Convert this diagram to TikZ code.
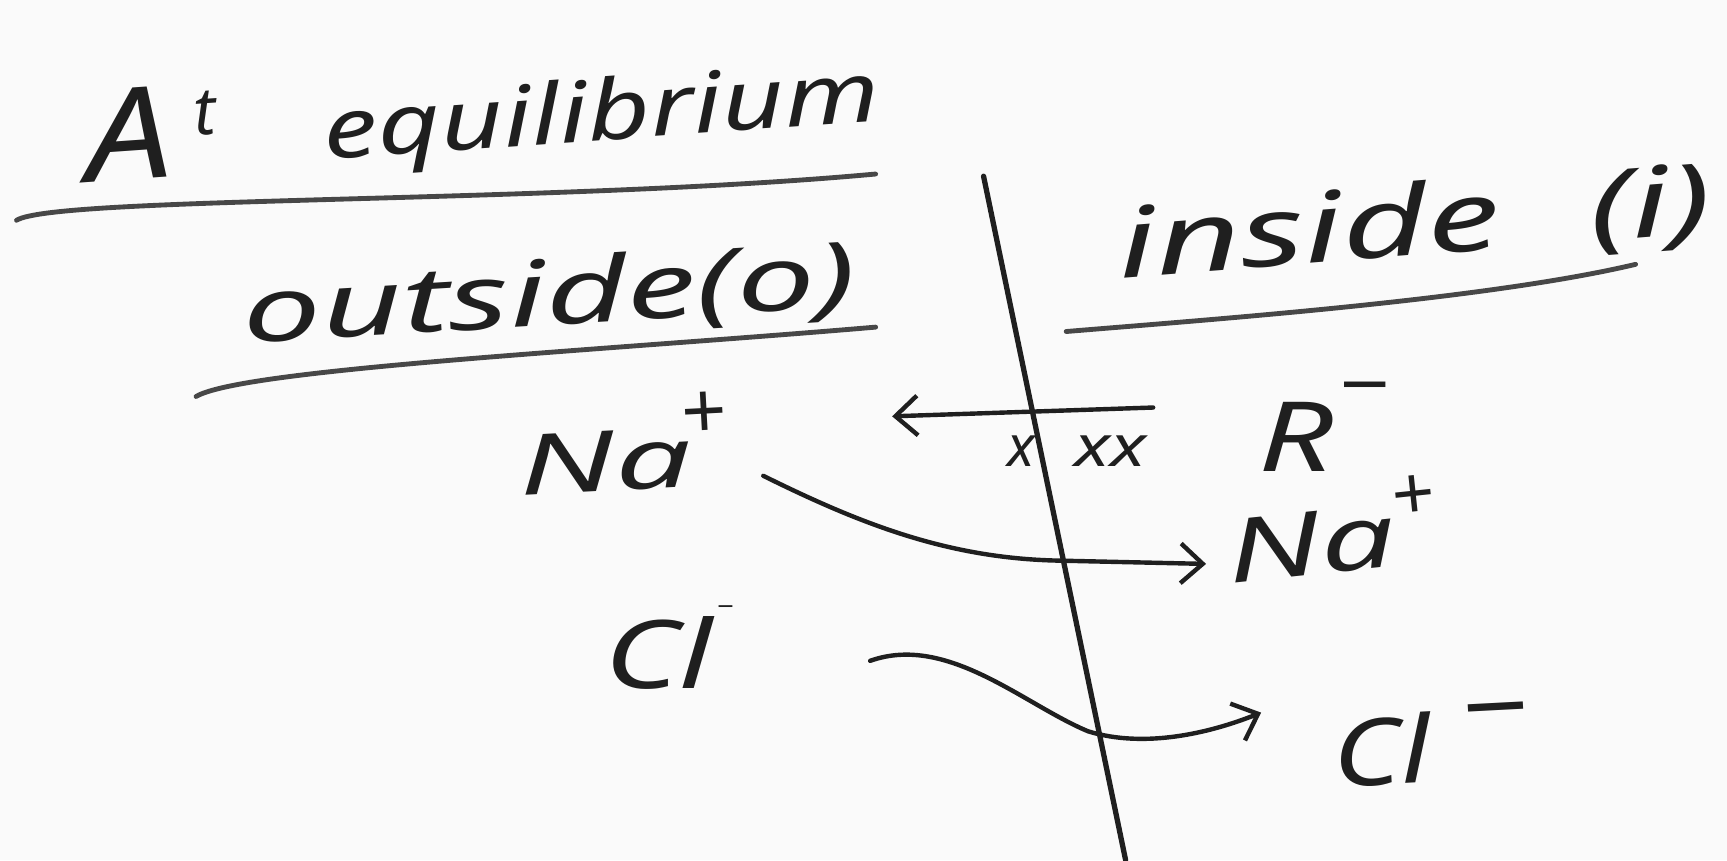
\documentclass[tikz,border=0pt]{standalone}
\usepackage{fontspec}
\usepackage{graphicx}
\setmainfont{Noto Sans}
\newfontfamily\dvfont{DejaVu Sans}
\usetikzlibrary{arrows.meta,calc}
\newcommand{\myup}[3]{\raisebox{#1}{\fontsize{#2}{#2}\selectfont #3}}
\newcommand{\mymin}[2]{\raisebox{#1}{\fontsize{#2}{#2}\selectfont\dvfont −}}
\newcommand{\fs}[1]{\fontsize{#1}{#1}\selectfont}
\begin{document}
\begin{tikzpicture}[x=0.5pt,y=-0.5pt,
  ink/.style={draw=black!88, line width=2pt, line cap=round, line join=round},
  uline/.style={draw=black!72, line width=2.2pt, line cap=round},
  hand/.style={font=\itshape, text=black!88, inner sep=0pt, anchor=base west},
  tip/.style={-{Straight Barb[length=10pt,width=18pt,line width=2pt]}}]

\fill[black!2] (0,0) rectangle (1568,781);
\useasboundingbox (0,0) rectangle (1568,781);

% texts
\node[hand, rotate=4] (title) at (80,166) {\scalebox{1.2}[1]{\fs{58pt}A}\hspace{11pt}\myup{18pt}{30pt}{t}\hspace{48pt}\raisebox{3pt}{\scalebox{1.3}[1]{\fs{38pt}equilibrium}}};
\node[hand, rotate=3.5] (out) at (222,312) {\scalebox{1.55}[1]{\fs{41pt}outside(o)}};
\node[hand, rotate=4.5] (in) at (1017,253) {\scalebox{1.52}[1]{\fs{44pt}inside\hspace{0.6em}(i)}};
\node[hand] (Rm) at (1142,428) {\scalebox{1.35}[1]{\fs{44pt}R}\hspace{2pt}\mymin{30pt}{30pt}};
\node[hand, rotate=3] (NaL) at (472,450) {\scalebox{1.62}[1]{\fs{38pt}Na}\hspace{-4pt}\myup{21pt}{36pt}{+}};
\node[hand, rotate=6] (NaR) at (1117,530) {\scalebox{1.5}[1]{\fs{40pt}Na}\myup{20pt}{34pt}{+}};
\node[hand] (ClL) at (548,625) {\scalebox{1.35}[1]{\fs{43pt}Cl}\hspace{2pt}\mymin{34pt}{10pt}};
\node[hand, rotate=3] (ClR) at (1211,715) {\scalebox{1.25}[1]{\fs{42pt}Cl}\hspace{14pt}\mymin{20pt}{40pt}};
\node[hand, anchor=center] (m1) at (927,410) {\fs{26pt}x};
\node[hand, anchor=center] (m2) at (1008,410) {\scalebox{1.3}[1]{\fs{26pt}xx}};

% membrane
\coordinate (mt) at (893,160);
\coordinate (mb) at (1022,781);
\draw[ink, line width=2.4pt] (mt) -- (mb);

% underlines
\coordinate (u1a) at (15,200);
\coordinate (u1b) at (795,158);
\draw[uline] (u1a) .. controls (50,178) and (500,185) .. (u1b);
\coordinate (u2a) at (178,360);
\coordinate (u2b) at (795,297);
\draw[uline] (u2a) .. controls (220,335) and (550,318) .. (u2b);
\coordinate (u3a) at (968,301);
\coordinate (u3b) at (1485,240);
\draw[uline] (u3a) .. controls (1100,290) and (1350,272) .. (u3b);

% arrows
\coordinate (rend) at (810,378);
\coordinate (rstart) at (1047,370);
\draw[ink, tip] (rstart) -- (rend);
\draw[ink, tip] ($(NaL.base west)+(221,-18)$) .. controls (780,475) and (860,507) .. (961,509) -- ($(NaR.base west)+(-22,-18)$);
\draw[ink, tip] ($(ClL.base west)+(242,-25)$) .. controls (860,575) and (930,640) .. (988,664) .. controls (1040,680) and (1100,665) .. ($(ClR.base west)+(-66,-68)$);
\end{tikzpicture}
\end{document}
